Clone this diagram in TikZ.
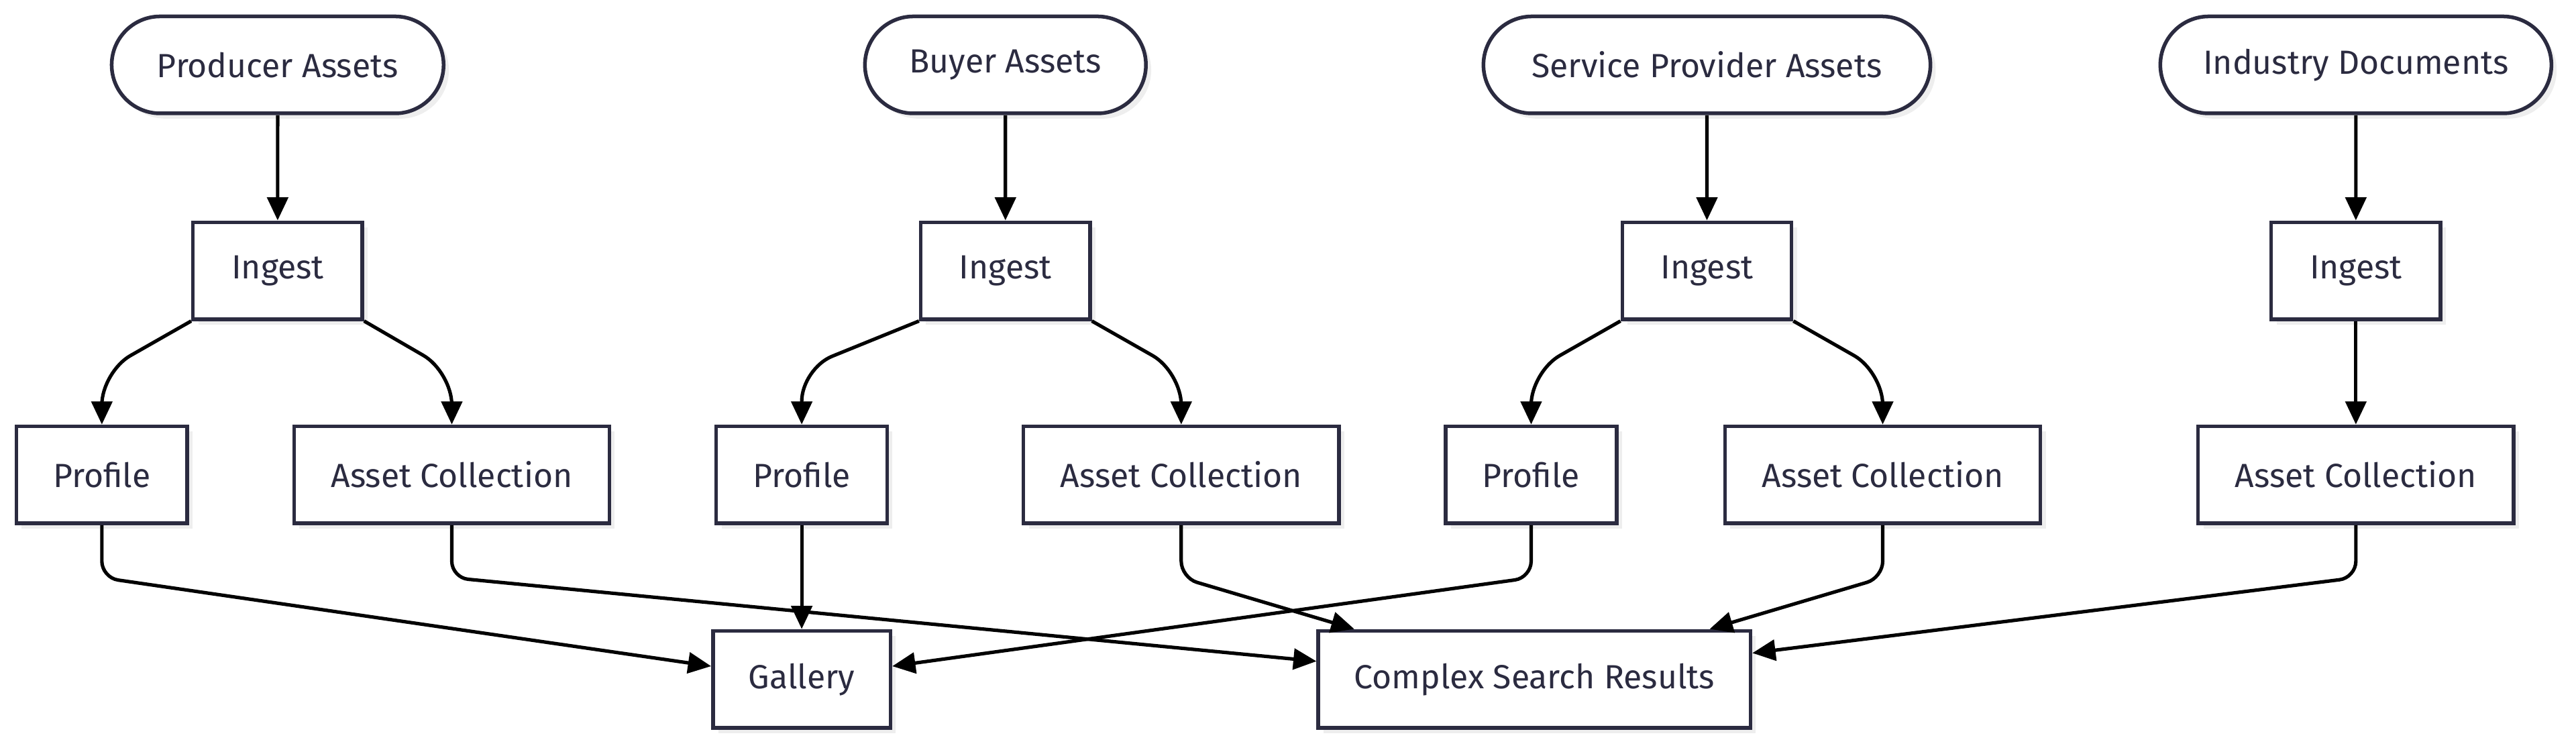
\documentclass[tikz,border=0pt]{standalone}
\usepackage{fontspec}
\setmainfont{Fira Sans}
\usetikzlibrary{arrows.meta,positioning,shapes.misc,calc,shadows}
\definecolor{inkline}{HTML}{2B2B40}
\definecolor{shadegray}{HTML}{EEEEEE}

\begin{document}
\begin{tikzpicture}[x=0.025cm, y=0.025cm, >={Triangle[length=10pt,width=9pt]}, node distance=1.6cm]
        \tikzset{
          base/.style={draw=inkline, line width=1.6pt, fill=white, text=inkline, font=\fontsize{14.5}{17}\selectfont, minimum height=1.475cm, inner sep=0pt,
            drop shadow={shadow xshift=0.08cm, shadow yshift=-0.08cm, fill=shadegray, opacity=1}},
          source/.style={base, rounded rectangle},
          stage/.style={base, rectangle},
          link/.style={->, line width=1.5pt, rounded corners=0.25cm},
          fork/.style={link, rounded corners=0.5cm}
        }
        \useasboundingbox (0,0) rectangle (1568,455);
        % asset sources
        \node[source, minimum width=5.05cm] (prodA) at (169,415.5) {Producer Assets};
        \node[source, minimum width=4.275cm] (buyA) at (612,415.5) {Buyer Assets};
        \node[source, minimum width=6.8cm] (servA) at (1039,415.5) {Service Provider Assets};
        \node[source, minimum width=5.95cm] (indD) at (1434,415.5) {Industry Documents};
        % ingest steps
        \node[stage, minimum width=2.575cm, below=of prodA] (ing1) {Ingest};
        \node[stage, minimum width=2.575cm, below=of buyA] (ing2) {Ingest};
        \node[stage, minimum width=2.575cm, below=of servA] (ing3) {Ingest};
        \node[stage, minimum width=2.575cm, below=of indD] (ing4) {Ingest};
        % profiles and collections
        \node[stage, minimum width=2.6cm] (prof1) at (62,166) {Profile};
        \node[stage, minimum width=4.8cm] (coll1) at (275,166) {Asset Collection};
        \node[stage, minimum width=2.6cm] (prof2) at (488,166) {Profile};
        \node[stage, minimum width=4.8cm] (coll2) at (719,166) {Asset Collection};
        \node[stage, minimum width=2.6cm] (prof3) at (932,166) {Profile};
        \node[stage, minimum width=4.8cm] (coll3) at (1146,166) {Asset Collection};
        \node[stage, minimum width=4.8cm] (coll4) at (1434,166) {Asset Collection};
        % outputs
        \node[stage, minimum width=2.7cm] (gallery) at (488,41.5) {Gallery};
        \node[stage, minimum width=6.575cm] (search) at (934,41.5) {Complex Search Results};

        \draw[link] (prodA) -- (ing1);
        \draw[link] (buyA) -- (ing2);
        \draw[link] (servA) -- (ing3);
        \draw[link] (indD) -- (ing4);
        \draw[fork] (ing1.south west) -- ($(prof1.north)+(0,32)$) -- (prof1.north);
        \draw[fork] (ing1.south east) -- ($(coll1.north)+(0,32)$) -- (coll1.north);
        \draw[fork] (ing2.south west) -- ($(prof2.north)+(0,34)$) -- (prof2.north);
        \draw[fork] (ing2.south east) -- ($(coll2.north)+(0,32)$) -- (coll2.north);
        \draw[fork] (ing3.south west) -- ($(prof3.north)+(0,32)$) -- (prof3.north);
        \draw[fork] (ing3.south east) -- ($(coll3.north)+(0,32)$) -- (coll3.north);
        \draw[link] (ing4) -- (coll4);

        \draw[link] (prof1.south) -- ++(0,-32) -- ($(gallery.west)+(0,8)$);
        \draw[link] (coll1.south) -- ++(0,-32) -- ($(search.west)+(0,11)$);
        \draw[link] (prof2) -- (gallery);
        \draw[link] (coll2.south) -- ++(0,-32) -- ($(search.north west)+(23,0)$);
        \draw[link] (prof3.south) -- ++(0,-32) -- ($(gallery.east)+(0,8)$);
        \draw[link] (coll3.south) -- ++(0,-32) -- ($(search.north east)+(-26,0)$);
        \draw[link] (coll4.south) -- ++(0,-32) -- ($(search.east)+(0,16)$);
    \end{tikzpicture}
\end{document}
